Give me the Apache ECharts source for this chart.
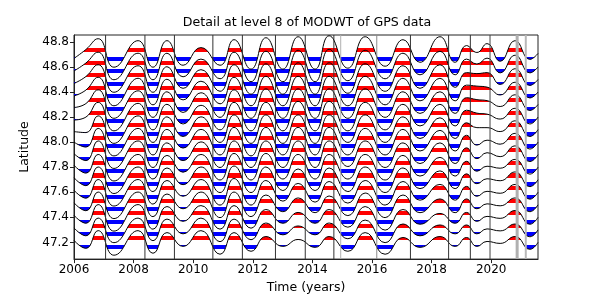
<!DOCTYPE html>
<html><head><meta charset="utf-8">
<script src="https://cdn.jsdelivr.net/npm/echarts@6/dist/echarts.min.js"></script>
<style>html,body{margin:0;padding:0;background:#fff}#c{width:598px;height:299px}</style>
</head><body><div id="c"></div>
<script>
// ---- data ----
const years = [2006.00, 2006.40, 2006.81, 2007.34, 2008.15, 2008.65, 2009.12, 2009.66, 2010.26, 2010.90,
  2011.37, 2011.94, 2012.44, 2013.01, 2013.52, 2014.09, 2014.56, 2015.19, 2015.77, 2016.44,
  2017.04, 2017.61, 2018.28, 2018.79, 2019.17, 2019.52, 2019.86, 2020.30, 2020.80, 2021.30, 2021.57];
const latitudes = [48.7, 48.6, 48.5, 48.4, 48.3, 48.2, 48.1, 48.0, 47.9, 47.8, 47.7, 47.6, 47.5, 47.4, 47.3, 47.2];
// detail (level 8) at each sample time, one array per latitude
const detail_487 = [-4, 5, 16, -13, 14, -13, 14, -11, 7, -11, 15, -15, 17, -15, 18, -15, 19, -14, 18, -12, 15, -8, 18, -8, 9, 2, 11, -7, 14, -5, 1];
const detail_486 = [-4, 4, 15, -13, 14, -13, 14, -10, 8, -12, 15, -15, 16, -15, 17, -15, 18, -14, 17, -12, 14, -8, 16, -8, 8, 3, 9, -6, 12, -6, 0];
const detail_485 = [-4, 3, 15, -13, 14, -13, 13, -9, 10, -12, 15, -15, 16, -15, 17, -15, 17, -14, 16, -12, 14, -9, 15, -8, 7, 6, 7, -5, 11, -6, 0];
const detail_484 = [-4, 2, 15, -14, 14, -13, 13, -8, 11, -12, 15, -14, 16, -14, 16, -14, 16, -14, 16, -13, 14, -9, 14, -9, 7, 6, 5, -3, 10, -6, 0];
const detail_483 = [-3, 1, 15, -14, 14, -13, 13, -8, 12, -13, 15, -14, 16, -14, 16, -14, 16, -14, 16, -13, 13, -9, 13, -9, 7, 5, 4, -2, 10, -6, 0];
const detail_482 = [-3, 0, 15, -14, 14, -13, 13, -7, 12, -13, 15, -14, 15, -14, 16, -14, 16, -14, 15, -13, 13, -9, 13, -9, 7, 4, 3, -2, 9, -7, 0];
const detail_481 = [-2, -3, 14, -14, 14, -13, 13, -7, 13, -13, 15, -14, 15, -14, 15, -14, 15, -13, 15, -13, 13, -9, 12, -9, 7, 2, 2, -2, 9, -7, 0];
const detail_480 = [0, -5, 14, -14, 14, -13, 13, -6, 13, -13, 15, -14, 15, -13, 15, -13, 15, -13, 14, -13, 13, -9, 12, -9, 7, -3, 2, -2, 9, -7, 0];
const detail_479 = [1, -6, 14, -14, 14, -13, 12, -6, 13, -13, 14, -13, 14, -13, 14, -13, 14, -12, 14, -13, 12, -9, 12, -9, 7, -4, 2, -2, 9, -7, 0];
const detail_478 = [2, -6, 13, -14, 13, -12, 12, -5, 13, -13, 14, -13, 14, -12, 13, -12, 13, -12, 13, -13, 12, -9, 10, -9, 6, -4, 1, -1, 8, -7, 0];
const detail_477 = [2, -6, 13, -14, 13, -12, 12, -5, 13, -13, 14, -13, 13, -11, 11, -11, 12, -12, 13, -13, 12, -9, 9, -9, 6, -4, 1, -1, 8, -7, 0];
const detail_476 = [2, -6, 13, -14, 13, -12, 12, -4, 13, -13, 14, -13, 12, -9, 9, -10, 11, -11, 12, -13, 11, -8, 8, -8, 6, -4, 1, -1, 8, -7, 0];
const detail_475 = [2, -6, 13, -14, 13, -12, 11, -4, 13, -13, 13, -12, 10, -7, 7, -8, 9, -11, 12, -13, 10, -8, 6, -8, 6, -4, 1, -1, 7, -7, 0];
const detail_474 = [2, -6, 13, -14, 13, -12, 11, -4, 12, -12, 12, -11, 8, -6, 5, -6, 8, -10, 11, -13, 8, -7, 4, -6, 5, -4, 1, -1, 7, -7, 0];
const detail_473 = [2, -6, 12, -13, 12, -11, 11, -4, 12, -12, 11, -10, 7, -5, 4, -5, 7, -9, 10, -13, 6, -6, 5, -4, 5, -4, 1, -1, 6, -7, 0];
const detail_472 = [2, -6, 12, -13, 12, -11, 10, -4, 12, -12, 10, -9, 6, -4, 3, -5, 6, -9, 10, -12, 5, -5, 6, -4, 5, -4, 1, -1, 6, -7, 0];
const details = [detail_487, detail_486, detail_485, detail_484, detail_483, detail_482, detail_481, detail_480,
  detail_479, detail_478, detail_477, detail_476, detail_475, detail_474, detail_473, detail_472];
const eventYears = [2007.06, 2008.38, 2009.37, 2010.66, 2011.65, 2012.76, 2013.76, 2014.72, 2014.95,
  2016.16, 2017.29, 2018.57, 2019.30, 2019.96, 2020.87, 2021.16];
const xTicks = [2006, 2008, 2010, 2012, 2014, 2016, 2018, 2020];
const yTicks = [47.2, 47.4, 47.6, 47.8, 48.0, 48.2, 48.4, 48.6, 48.8];

// ---- styling ----
const wiggleScale = 0.00784;       // degrees of latitude per unit of detail
const bandInner = 0.018, bandOuter = 0.05;
const eventColor = ['#333', '#333', '#333', '#333', '#333', '#333', '#333', '#333', '#b0b0b0',
  '#8a8a8a', '#333', '#333', '#333', '#444', '#b0b0b0', '#b8b8b8'];
const eventWidth = [1, 1, 1, 1, 1, 1, 1, 1, 1, 1, 1, 1, 1, 1, 3, 2];
const xMin = 2006, xMax = 2021.57, yMin = 47.067, yMax = 48.855;
const FONT = 'DejaVu Sans';
const SMOOTH = 0.5;

const series = [];
const visualMap = [];
latitudes.forEach((lat, i) => {
  const pts = years.map((t, j) => [t, lat + details[i][j] * wiggleScale]);
  series.push({
    type: 'line', data: pts, smooth: SMOOTH, symbol: 'none', silent: true, z: 2,
    lineStyle: { width: 0, opacity: 0 },
    areaStyle: { origin: lat, opacity: 1 }
  });
  visualMap.push({
    type: 'piecewise', show: false, seriesIndex: series.length - 1, dimension: 1,
    pieces: [
      { gte: lat - bandOuter, lte: lat - bandInner, color: '#0000ff' },
      { gte: lat + bandInner, lte: lat + bandOuter, color: '#ff0000' }
    ],
    outOfRange: { color: 'rgba(0,0,0,0)' }
  });
});
latitudes.forEach((lat, i) => {
  series.push({
    type: 'line', data: years.map((t, j) => [t, lat + details[i][j] * wiggleScale]),
    smooth: SMOOTH, symbol: 'none', silent: true, z: 3,
    lineStyle: { color: '#000', width: 1 }
  });
});
series.push({
  type: 'custom', silent: true, z: 5, clip: true,
  data: eventYears.map(t => [t, yMin]),
  renderItem: (params, api) => {
    const t = api.value(0);
    const p1 = api.coord([t, yMax]);
    const p2 = api.coord([t, yMin]);
    return { type: 'line', shape: { x1: p1[0], y1: p1[1], x2: p2[0], y2: p2[1] },
      style: { stroke: eventColor[params.dataIndex], lineWidth: eventWidth[params.dataIndex] } };
  }
});

const chart = echarts.init(document.getElementById('c'), null, { renderer: 'canvas' });
chart.setOption({
  animation: false,
  backgroundColor: '#fff',
  grid: { left: 74, right: 60, top: 35, bottom: 36, show: true, borderColor: '#222', borderWidth: 1, backgroundColor: 'transparent' },
  graphic: [{ type: 'text', x: 307, y: 23, silent: true,
    style: { text: 'Detail at level 8 of MODWT of GPS data', fill: '#000', font: '12.6px "DejaVu Sans"', align: 'center', verticalAlign: 'middle' } }],
  xAxis: {
    type: 'value', min: xMin, max: xMax,
    name: 'Time (years)', nameLocation: 'middle', nameGap: 20,
    nameTextStyle: { fontFamily: FONT, fontSize: 12.5, color: '#000' },
    axisLine: { show: true, lineStyle: { color: '#222' } },
    axisTick: { show: true, length: 4, lineStyle: { color: '#222' }, customValues: xTicks },
    axisLabel: { fontFamily: FONT, fontSize: 12, color: '#000', margin: 5, customValues: xTicks, formatter: v => String(v) },
    splitLine: { show: false }
  },
  yAxis: {
    type: 'value', min: yMin, max: yMax,
    name: 'Latitude', nameLocation: 'middle', nameGap: 34,
    nameTextStyle: { fontFamily: FONT, fontSize: 12.5, color: '#000' },
    axisLine: { show: true, lineStyle: { color: '#222' } },
    axisTick: { show: true, length: 4, lineStyle: { color: '#222' }, customValues: yTicks },
    axisLabel: { fontFamily: FONT, fontSize: 12, color: '#000', margin: 5, customValues: yTicks, formatter: v => v.toFixed(1) },
    splitLine: { show: false }
  },
  visualMap: visualMap,
  series: series
});
</script></body></html>
